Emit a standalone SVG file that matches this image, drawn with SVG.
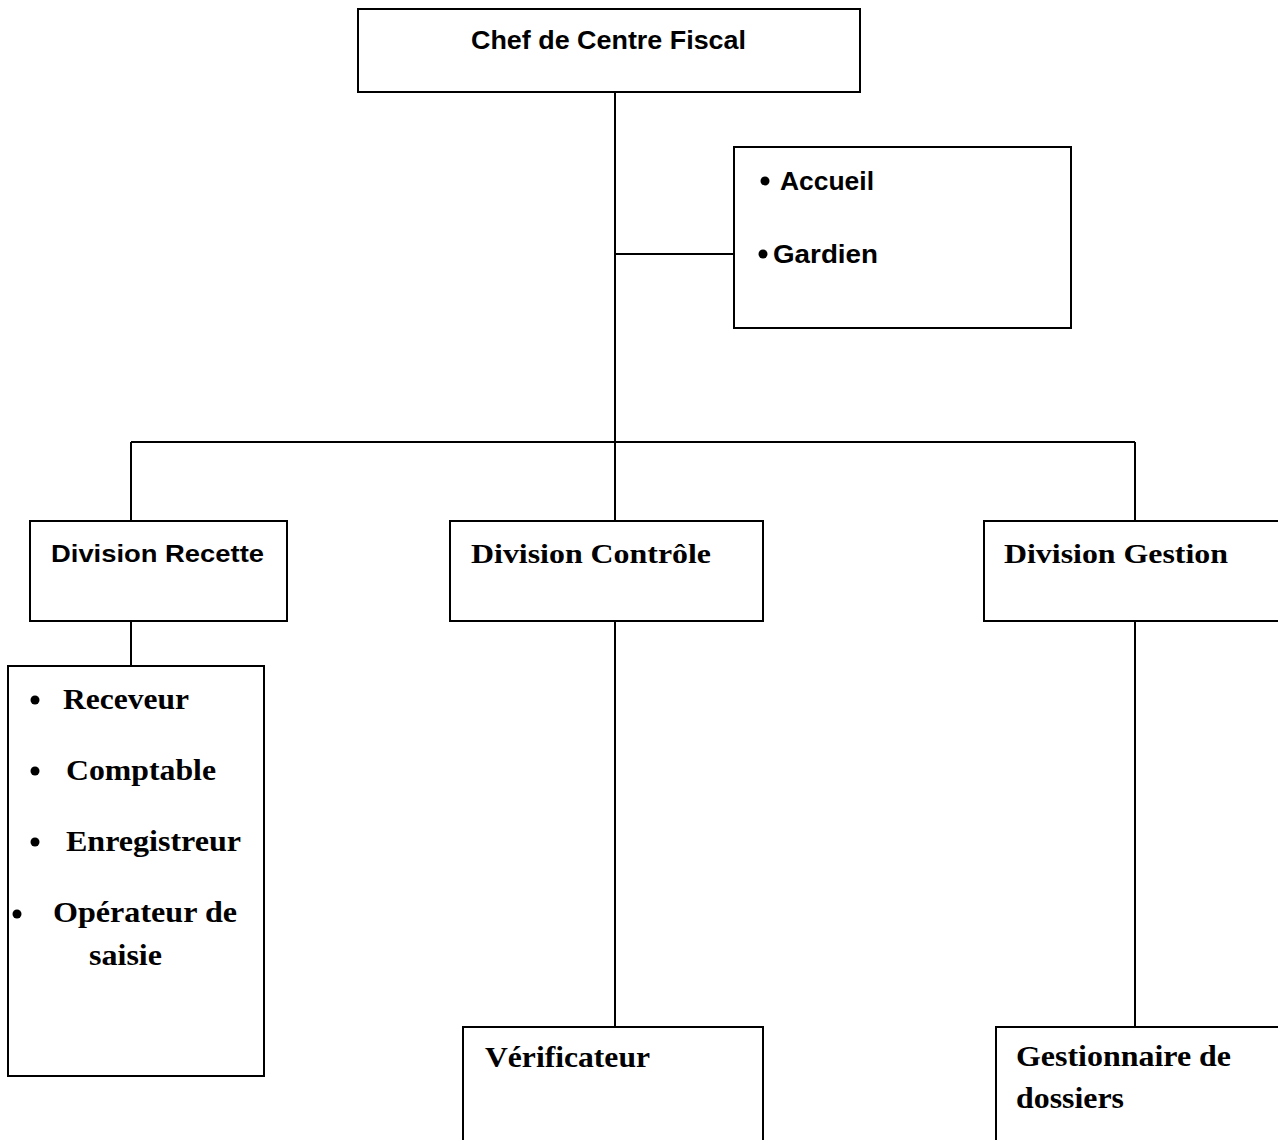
<svg xmlns="http://www.w3.org/2000/svg" width="1278" height="1140" viewBox="0 0 1278 1140">
<style>
.box{fill:#fff;stroke:#000;stroke-width:2}
.ln{stroke:#000;stroke-width:2;fill:none}
.sans{font-family:"Liberation Sans","DejaVu Sans",sans-serif;font-weight:bold;fill:#000}
.serif{font-family:"Liberation Serif","DejaVu Serif",serif;font-weight:bold;fill:#000}
.dot{fill:#000}
</style>
<rect width="1278" height="1140" fill="#fff"/>
<g id="connectors">
<line class="ln" x1="615" y1="92" x2="615" y2="527"/>
<line class="ln" x1="615" y1="254" x2="734" y2="254"/>
<line class="ln" x1="131" y1="442" x2="1135" y2="442"/>
<line class="ln" x1="131" y1="442" x2="131" y2="521"/>
<line class="ln" x1="1135" y1="442" x2="1135" y2="521"/>
<line class="ln" x1="131" y1="621" x2="131" y2="666"/>
<line class="ln" x1="615" y1="621" x2="615" y2="1027"/>
<line class="ln" x1="1135" y1="621" x2="1135" y2="1027"/>
</g>
<g id="chef">
<rect class="box" x="358" y="9" width="502" height="83"/>
<text class="sans" x="471" y="49" font-size="26" textLength="275" lengthAdjust="spacingAndGlyphs">Chef de Centre Fiscal</text>
</g>
<g id="accueil">
<rect class="box" x="734" y="147" width="337" height="181"/>
<circle class="dot" cx="765" cy="181" r="4.5"/>
<text class="sans" x="780" y="190" font-size="26" textLength="94" lengthAdjust="spacingAndGlyphs">Accueil</text>
<circle class="dot" cx="763" cy="254" r="4.5"/>
<text class="sans" x="773" y="263" font-size="26" textLength="105" lengthAdjust="spacingAndGlyphs">Gardien</text>
</g>
<g id="recette">
<rect class="box" x="30" y="521" width="257" height="100"/>
<text class="sans" x="51" y="562" font-size="23" textLength="213" lengthAdjust="spacingAndGlyphs">Division Recette</text>
</g>
<g id="controle">
<rect class="box" x="450" y="521" width="313" height="100"/>
<text class="serif" x="471" y="563" font-size="27" textLength="240" lengthAdjust="spacingAndGlyphs">Division Contrôle</text>
</g>
<g id="gestion">
<rect class="box" x="984" y="521" width="300" height="100"/>
<text class="serif" x="1004" y="563" font-size="27" textLength="224" lengthAdjust="spacingAndGlyphs">Division Gestion</text>
</g>
<g id="recette-list">
<rect class="box" x="8" y="666" width="256" height="410"/>
<circle class="dot" cx="35" cy="700" r="4.5"/>
<text class="serif" x="63" y="709" font-size="30" textLength="126" lengthAdjust="spacingAndGlyphs">Receveur</text>
<circle class="dot" cx="35" cy="771" r="4.5"/>
<text class="serif" x="66" y="780" font-size="30" textLength="150" lengthAdjust="spacingAndGlyphs">Comptable</text>
<circle class="dot" cx="35" cy="842" r="4.5"/>
<text class="serif" x="66" y="851" font-size="30" textLength="175" lengthAdjust="spacingAndGlyphs">Enregistreur</text>
<circle class="dot" cx="17" cy="914" r="4.5"/>
<text class="serif" x="53" y="922" font-size="30" textLength="184" lengthAdjust="spacingAndGlyphs">Opérateur de</text>
<text class="serif" x="89" y="965" font-size="30" textLength="73" lengthAdjust="spacingAndGlyphs">saisie</text>
</g>
<g id="verificateur">
<rect class="box" x="463" y="1027" width="300" height="130"/>
<text class="serif" x="485" y="1067" font-size="29" textLength="165" lengthAdjust="spacingAndGlyphs">Vérificateur</text>
</g>
<g id="gestionnaire">
<rect class="box" x="996" y="1027" width="300" height="130"/>
<text class="serif" x="1016" y="1066" font-size="29" textLength="215" lengthAdjust="spacingAndGlyphs">Gestionnaire de</text>
<text class="serif" x="1016" y="1108" font-size="29" textLength="108" lengthAdjust="spacingAndGlyphs">dossiers</text>
</g>
</svg>
